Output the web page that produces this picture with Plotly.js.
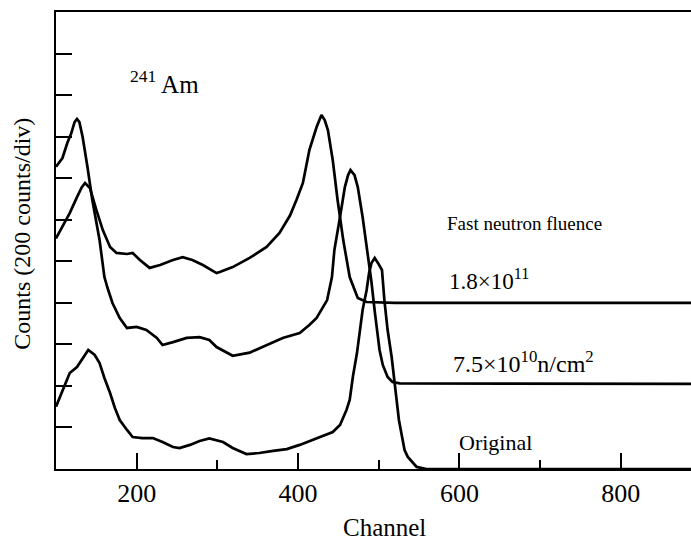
<!DOCTYPE html>
<html>
<head>
<meta charset="utf-8">
<script src="https://cdn.plot.ly/plotly-3.0.1.min.js"></script>
<style>html,body{margin:0;padding:0;background:#fff;}#chart{width:691px;height:541px;}</style>
</head>
<body>
<div id="chart"></div>
<script>
// Fast neutron fluence 1.8x10^11
const chanHigh = [100,108,117,126,132,136,142,150,158,167,175,188,195,204,216,229,245,257,269,282,299,303,319,340,361,377,390,398,406,414,423,429,433,437,443,449,456,464,474,485,520,887];
const countsHigh = [1110,1165,1232,1309,1357,1377,1353,1247,1150,1069,1040,1035,1040,1006,968,982,1006,1020,1006,982,943,948,972,1016,1069,1136,1220,1295,1377,1535,1646,1704,1680,1632,1487,1295,1102,924,823,804,800,800];

// Fast neutron fluence 7.5x10^10 n/cm^2
const chanMid = [100,108,114,119,123,126,129,133,139,145,154,160,164,170,179,188,200,212,225,232,245,262,278,290,299,319,340,361,381,402,414,423,431,436,442,445,452,458,462,465,470,474,480,486,491,495,498,501,505,511,517,526,887];
const countsMid = [1455,1497,1569,1617,1670,1685,1670,1598,1454,1295,1102,924,870,799,727,679,684,669,631,597,611,631,635,621,587,545,560,597,631,655,693,727,780,813,924,1054,1213,1357,1415,1439,1415,1357,1213,1054,900,760,669,573,501,443,419,412,410];

// Original
const chanOrig = [100,108,117,126,133,140,148,154,160,167,173,179,188,195,207,220,232,245,253,266,278,290,307,319,336,352,369,386,402,423,443,452,460,464,468,473,476,480,485,488,491,495,499,504,507,511,516,519,522,525,528,532,536,542,547,559,887];
const countsOrig = [300,380,462,491,534,573,549,510,438,366,294,236,188,154,149,149,130,106,101,116,135,147,130,101,72,77,87,96,116,149,178,212,284,332,445,558,655,765,862,943,992,1016,992,958,813,669,539,428,332,236,173,91,58,29,10,0,0];

const xTicks = [200,400,600,800];
const xMinorTicks = [300,500,700];

const F = 'Liberation Serif, Times New Roman, serif';
const lineStyle = {color:'#000', width:2.7};

const traces = [
  {x:chanHigh, y:countsHigh, mode:'lines', line:lineStyle, name:'1.8e11'},
  {x:chanMid, y:countsMid, mode:'lines', line:lineStyle, name:'7.5e10'},
  {x:chanOrig, y:countsOrig, mode:'lines', line:lineStyle, name:'Original'}
];

const layout = {
  width:691, height:541,
  margin:{l:56, r:0, t:12, b:72, pad:0},
  paper_bgcolor:'#fff', plot_bgcolor:'#fff',
  showlegend:false,
  font:{family:F, color:'#000'},
  xaxis:{
    range:[100,887], showgrid:false, zeroline:false,
    showline:true, linecolor:'#000', linewidth:2, mirror:true,
    tickmode:'array', tickvals:xTicks, ticktext:xTicks.map(String),
    ticks:'inside', ticklen:16, tickwidth:2, tickcolor:'#000',
    tickfont:{family:F, size:26, color:'#000'},
    minor:{tickmode:'array', tickvals:xMinorTicks, ticks:'inside', ticklen:9, tickwidth:2, tickcolor:'#000', showgrid:false}
  },
  yaxis:{
    range:[0,2200], showgrid:false, zeroline:false,
    showline:true, linecolor:'#000', linewidth:2,
    tickmode:'linear', tick0:0, dtick:200,
    ticks:'inside', ticklen:16, tickwidth:2, tickcolor:'#000',
    showticklabels:false
  },
  annotations:[
    {xref:'paper', yref:'paper', x:0.518, y:-0.129, text:'Channel', showarrow:false, xanchor:'center', yanchor:'middle', font:{family:F, size:25, color:'#000'}},
    {xref:'paper', yref:'paper', x:-0.0535, y:0.515, text:'Counts (200 counts/div)', textangle:-90, showarrow:false, xanchor:'center', yanchor:'middle', font:{family:F, size:24, color:'#000'}},
    {xref:'x', yref:'y', x:189, y:1863, text:'<sup>241</sup> Am', showarrow:false, xanchor:'left', yanchor:'middle', font:{family:F, size:25, color:'#000'}},
    {xref:'x', yref:'y', x:582, y:1184, text:'Fast neutron fluence', showarrow:false, xanchor:'left', yanchor:'middle', font:{family:F, size:19, color:'#000'}},
    {xref:'x', yref:'y', x:584, y:910, text:'1.8\u00d710<sup>11</sup>', showarrow:false, xanchor:'left', yanchor:'middle', font:{family:F, size:23, color:'#000'}},
    {xref:'x', yref:'y', x:589, y:515, text:'7.5\u00d710<sup>10</sup>n/cm<sup>2</sup>', showarrow:false, xanchor:'left', yanchor:'middle', font:{family:F, size:24, color:'#000'}},
    {xref:'x', yref:'y', x:597, y:130, text:'Original', showarrow:false, xanchor:'left', yanchor:'middle', font:{family:F, size:22, color:'#000'}}
  ]
};

Plotly.newPlot('chart', traces, layout, {staticPlot:true, displayModeBar:false});
</script>
</body>
</html>
